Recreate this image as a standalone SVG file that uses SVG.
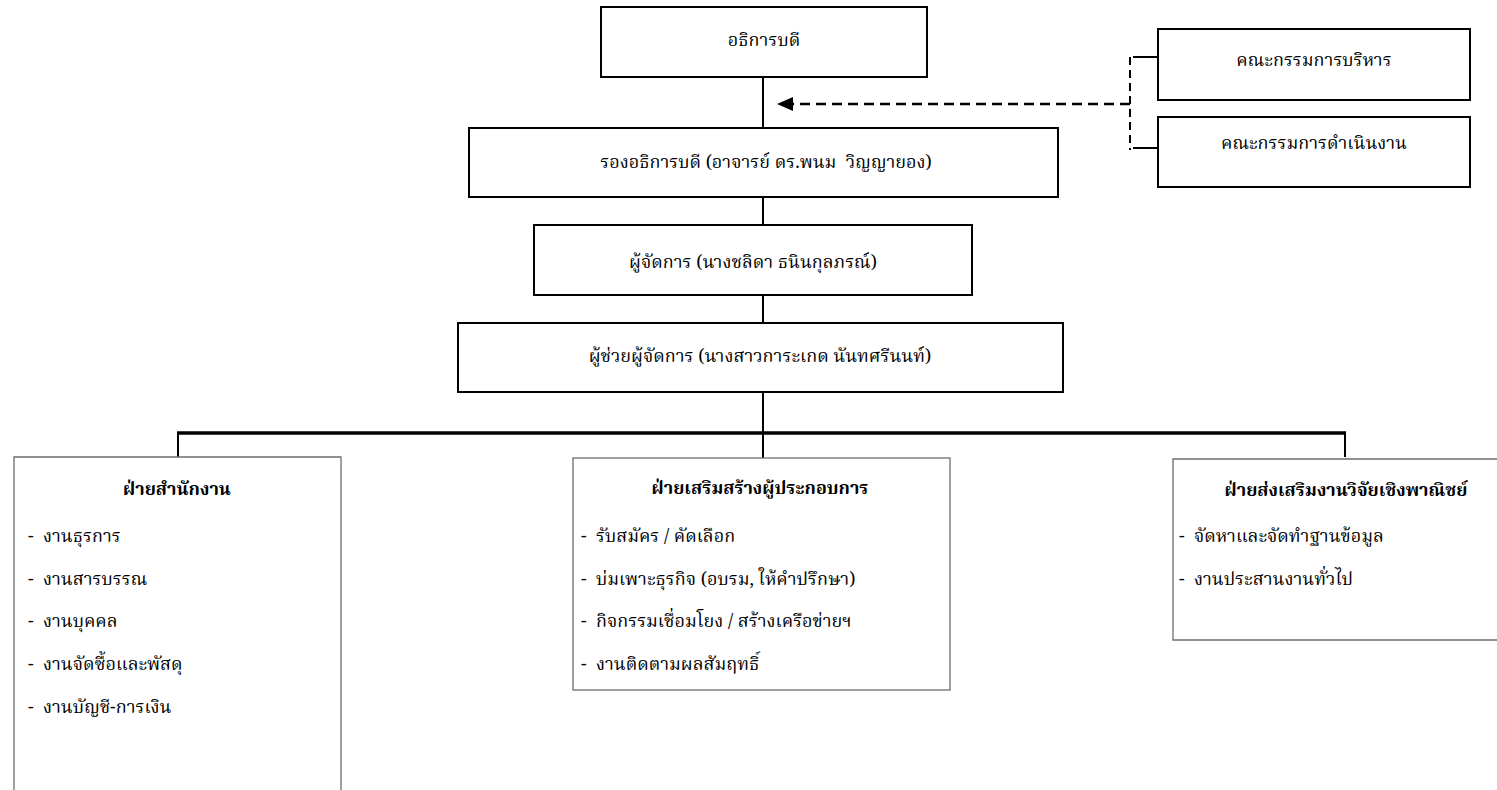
<svg xmlns="http://www.w3.org/2000/svg" width="1497" height="790" viewBox="0 0 1497 790">
  <defs>
    <style>
      .box { fill: #ffffff; stroke: #000000; stroke-width: 2; }
      .dept { fill: #ffffff; stroke: #6e6e6e; stroke-width: 1.3; }
      .t { font-family: 'Noto Serif Thai', 'Liberation Serif', serif; font-size: 18px; fill: #000000; white-space: pre; }
      .c { text-anchor: middle; }
      .h { font-weight: bold; }
      .line { stroke: #000000; stroke-width: 2; fill: none; }
      .bus { stroke: #000000; stroke-width: 3.5; fill: none; }
      .dash { stroke: #000000; stroke-width: 2.5; fill: none; stroke-dasharray: 10 6; }
      .vdash { stroke: #000000; stroke-width: 2; fill: none; stroke-dasharray: 8 5; }
    </style>
    <marker id="arrow" markerWidth="16" markerHeight="16" refX="15" refY="7" orient="auto" markerUnits="userSpaceOnUse">
      <path d="M0,0 L16,7 L0,14 Z" fill="#000000"/>
    </marker>
  </defs>
  <rect width="1497" height="790" fill="#ffffff"/>

  <g id="connectors">
    <line class="line" x1="763" y1="77" x2="763" y2="128"/>
    <line class="line" x1="763" y1="197" x2="763" y2="225"/>
    <line class="line" x1="763" y1="295" x2="763" y2="323"/>
    <line class="line" x1="763" y1="392" x2="763" y2="458"/>
    <line class="bus" x1="177" y1="433" x2="1346" y2="433"/>
    <line class="line" x1="178" y1="433" x2="178" y2="457"/>
    <line class="line" x1="1345" y1="433" x2="1345" y2="457"/>
    <line class="dash" x1="1130" y1="104" x2="778" y2="104" marker-end="url(#arrow)"/>
    <line class="vdash" x1="1130" y1="57" x2="1130" y2="150"/>
    <line class="line" x1="1133" y1="57" x2="1158" y2="57"/>
    <line class="line" x1="1133" y1="148" x2="1158" y2="148"/>
  </g>

  <g id="president">
    <rect class="box" x="601" y="7" width="326" height="70"/>
    <text class="t c" x="764" y="46">อธิการบดี</text>
  </g>

  <g id="exec-committee">
    <rect class="box" x="1158" y="29" width="312" height="71"/>
    <text class="t c" x="1314" y="66">คณะกรรมการบริหาร</text>
  </g>

  <g id="op-committee">
    <rect class="box" x="1158" y="117" width="312" height="70"/>
    <text class="t c" x="1314" y="149">คณะกรรมการดำเนินงาน</text>
  </g>

  <g id="vice-president">
    <rect class="box" x="469" y="128" width="589" height="69"/>
    <text class="t c" x="766" y="168">รองอธิการบดี (อาจารย์ ดร.พนม&#160; วิญญายอง)</text>
  </g>

  <g id="manager">
    <rect class="box" x="534" y="225" width="438" height="70"/>
    <text class="t c" x="753" y="268">ผู้จัดการ (นางชลิดา ธนินกุลภรณ์)</text>
  </g>

  <g id="assistant-manager">
    <rect class="box" x="458" y="323" width="605" height="69"/>
    <text class="t c" x="760" y="362">ผู้ช่วยผู้จัดการ (นางสาวการะเกด นันทศรีนนท์)</text>
  </g>

  <g id="office-dept">
    <path class="dept" d="M14,792 L14,457 L341,457 L341,792"/>
    <text class="t c h" x="177" y="495">ฝ่ายสำนักงาน</text>
    <text class="t" x="28" y="542">-  งานธุรการ</text>
    <text class="t" x="28" y="585">-  งานสารบรรณ</text>
    <text class="t" x="28" y="627">-  งานบุคคล</text>
    <text class="t" x="28" y="670">-  งานจัดซื้อและพัสดุ</text>
    <text class="t" x="28" y="713">-  งานบัญชี-การเงิน</text>
  </g>

  <g id="entrepreneur-dept">
    <rect class="dept" x="573" y="458" width="377" height="232"/>
    <text class="t c h" x="760" y="494">ฝ่ายเสริมสร้างผู้ประกอบการ</text>
    <text class="t" x="581" y="542">-  รับสมัคร / คัดเลือก</text>
    <text class="t" x="581" y="585">-  บ่มเพาะธุรกิจ (อบรม, ให้คำปรึกษา)</text>
    <text class="t" x="581" y="627">-  กิจกรรมเชื่อมโยง / สร้างเครือข่ายฯ</text>
    <text class="t" x="581" y="670">-  งานติดตามผลสัมฤทธิ์</text>
  </g>

  <g id="research-dept">
    <path class="dept" d="M1499,459 L1173,459 L1173,640 L1499,640"/>
    <text class="t c h" x="1346" y="496">ฝ่ายส่งเสริมงานวิจัยเชิงพาณิชย์</text>
    <text class="t" x="1179" y="542">-  จัดหาและจัดทำฐานข้อมูล</text>
    <text class="t" x="1179" y="585">-  งานประสานงานทั่วไป</text>
  </g>
</svg>
